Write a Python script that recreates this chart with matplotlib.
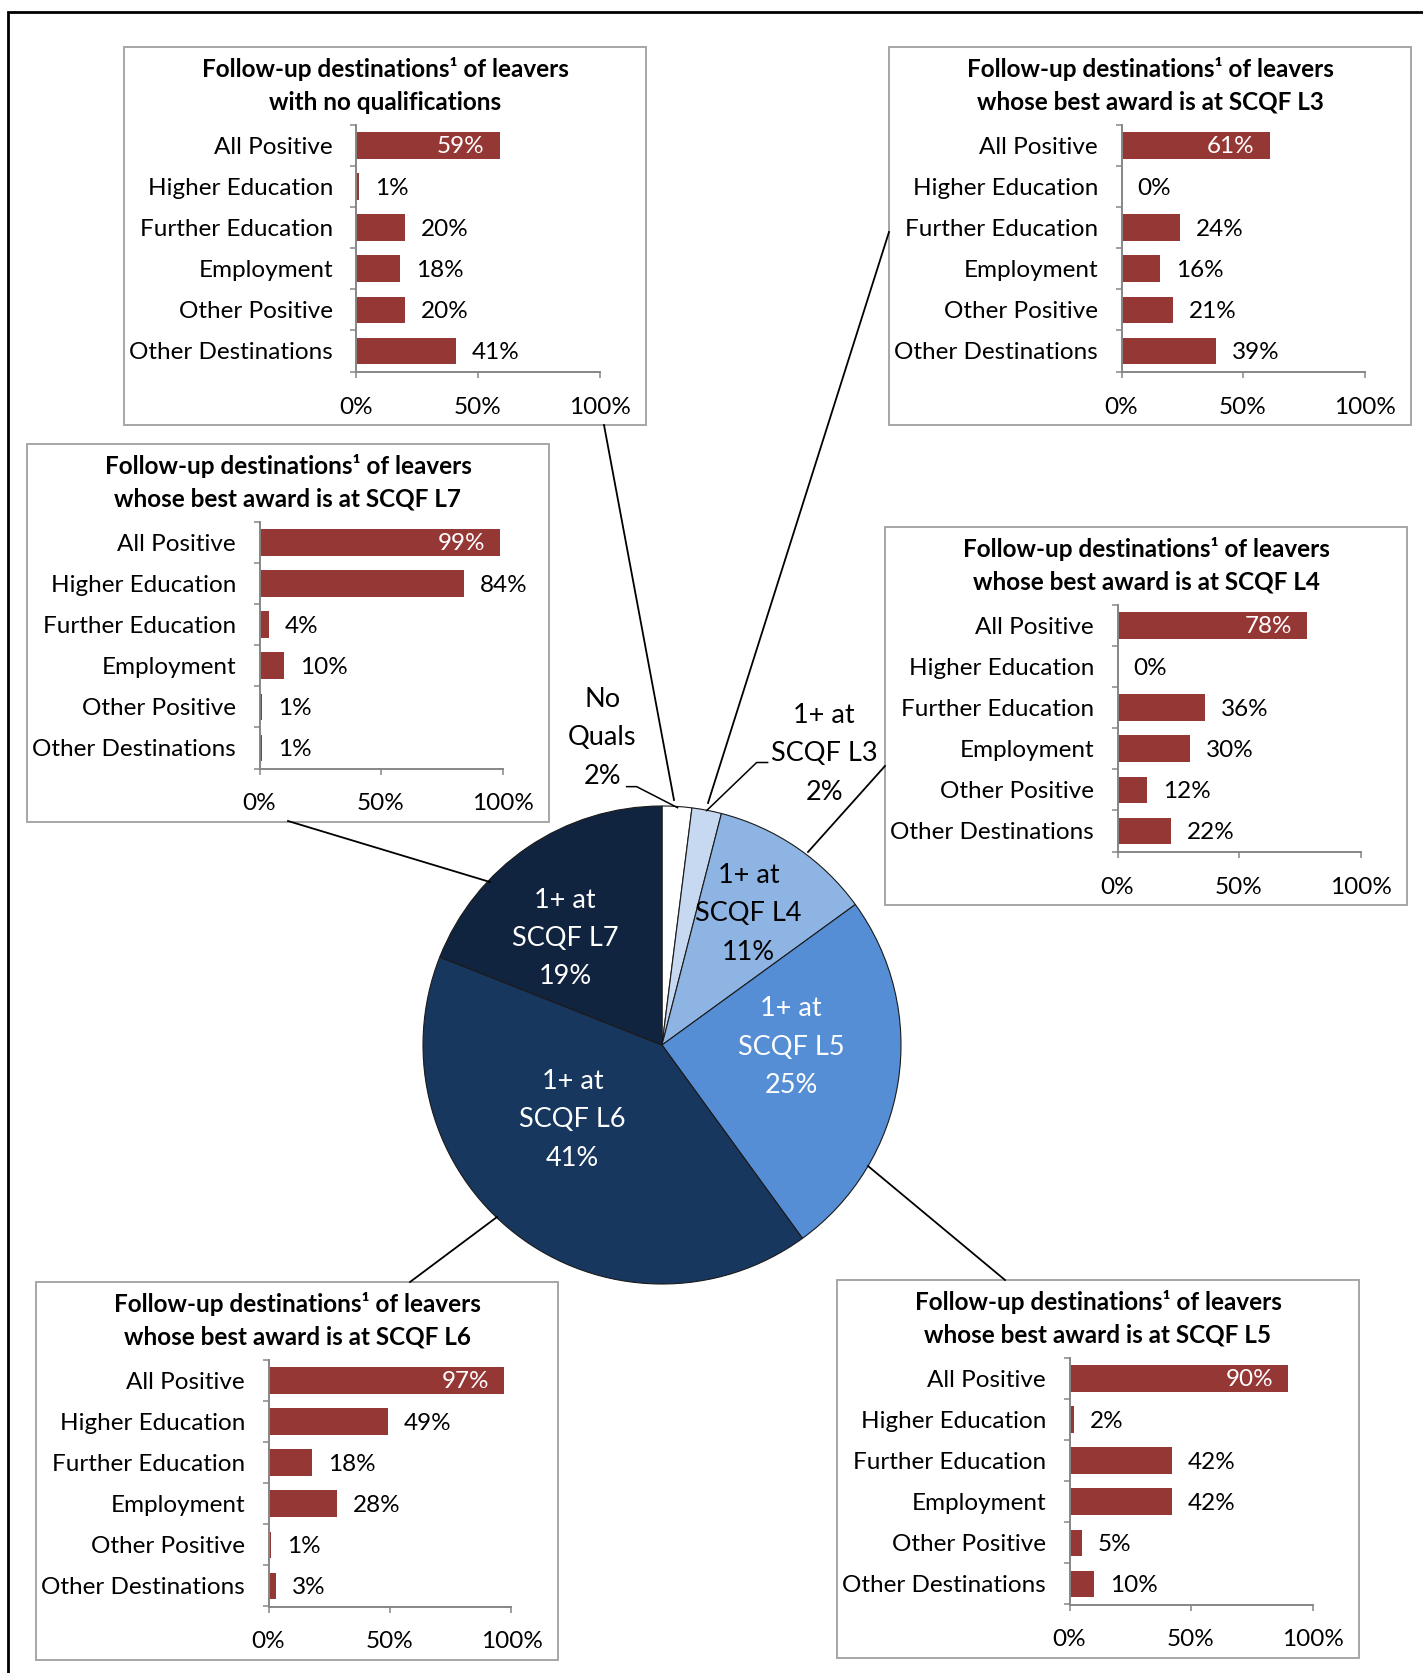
import matplotlib
matplotlib.use("Agg")
import matplotlib.pyplot as plt
from matplotlib.patches import Rectangle
from matplotlib.lines import Line2D

plt.rcParams['font.family'] = ['Lato', 'DejaVu Sans']

W, H = 1423, 1673

categories = ["All Positive", "Higher Education", "Further Education",
              "Employment", "Other Positive", "Other Destinations"]

no_quals = [59, 1, 20, 18, 20, 41]
scqf_l3 = [61, 0, 24, 16, 21, 39]
scqf_l4 = [78, 0, 36, 30, 12, 22]
scqf_l5 = [90, 2, 42, 42, 5, 10]
scqf_l6 = [97, 49, 18, 28, 1, 3]
scqf_l7 = [99, 84, 4, 10, 1, 1]

pie_names = ["No\nQuals", "1+ at\nSCQF L3", "1+ at\nSCQF L4",
             "1+ at\nSCQF L5", "1+ at\nSCQF L6", "1+ at\nSCQF L7"]
pie_shares = [2, 2, 11, 25, 41, 19]
pie_colors = ["#FFFFFF", "#C6D9F1", "#8EB4E3", "#558ED5", "#17375E", "#11243F"]
pie_text_colors = ["black", "black", "black", "white", "white", "white"]

BAR = "#953735"
AXC = "#868686"
BOX = "#A6A6A6"
FS = 17.5


def fx(x):
    return x / W


def fy(y):
    return 1 - y / H


fig = plt.figure(figsize=(W / 100, H / 100), dpi=100)

# outer frame (right and bottom edges fall outside the picture)
fig.patches.append(Rectangle((fx(8), fy(1700)), (1450 - 8) / W, (1700 - 12) / H, fill=False,
                             edgecolor="black", linewidth=2, transform=fig.transFigure))

BW, BH = 522, 378


def panel(x0, y0, subtitle, vals):
    fig.patches.append(Rectangle((fx(x0), fy(y0 + BH)), BW / W, BH / H, fill=False,
                                 edgecolor=BOX, linewidth=1.4, transform=fig.transFigure))
    cx = x0 + BW / 2
    fig.text(fx(cx), fy(y0 + 22), "Follow-up destinations\u00b9 of leavers",
             ha="center", va="center", fontsize=17.5, fontweight="bold")
    fig.text(fx(cx), fy(y0 + 55), subtitle,
             ha="center", va="center", fontsize=17.5, fontweight="bold")
    ax = fig.add_axes([fx(x0 + 232.5), fy(y0 + 78 + 246.5), 243 / W, 246.5 / H])
    ax.set_facecolor("none")
    ypos = list(range(len(categories)))
    ax.barh(ypos, vals, height=0.65, color=BAR)
    for i, v in enumerate(vals):
        if i == 0:
            ax.annotate(f"{v}%", xy=(v, i), xytext=(-11, -0.7), textcoords="offset points",
                        ha="right", va="center", color="white", fontsize=FS)
        else:
            ax.annotate(f"{v}%", xy=(v, i), xytext=(11.5, -1.2), textcoords="offset points",
                        ha="left", va="center", color="black", fontsize=FS)
    ax.set_xlim(0, 100)
    ax.set_ylim(len(categories) - 0.5, -0.5)
    ax.set_xticks([0, 50, 100])
    ax.set_xticklabels(["0%", "50%", "100%"], fontsize=FS)
    ax.set_yticks(ypos)
    ax.set_yticklabels(categories, fontsize=FS)
    ax.set_yticks([i - 0.5 for i in range(len(categories) + 1)], minor=True)
    ax.tick_params(axis="y", which="major", length=0, pad=17)
    ax.tick_params(axis="y", which="minor", length=4, color=AXC, width=1.1)
    ax.tick_params(axis="x", length=4, color=AXC, width=1.1, pad=14)
    for s in ["top", "right"]:
        ax.spines[s].set_visible(False)
    for s in ["left", "bottom"]:
        ax.spines[s].set_color(AXC)
        ax.spines[s].set_linewidth(1.4)


panel(124, 47, "with no qualifications", no_quals)
panel(889, 47, "whose best award is at SCQF L3", scqf_l3)
panel(27, 444, "whose best award is at SCQF L7", scqf_l7)
panel(885, 527, "whose best award is at SCQF L4", scqf_l4)
panel(36, 1282, "whose best award is at SCQF L6", scqf_l6)
panel(837, 1280, "whose best award is at SCQF L5", scqf_l5)

# pie
PCX, PCY, PR = 662, 1045, 239
pax = fig.add_axes([fx(PCX - PR), fy(PCY + PR), 2 * PR / W, 2 * PR / H])
pax.pie(pie_shares, colors=pie_colors, startangle=90, counterclock=False,
        wedgeprops=dict(edgecolor="#1a1a1a", linewidth=0.8))
pax.set_xlim(-1, 1)
pax.set_ylim(-1, 1)
pax.axis("off")

label_pos = [(-0.25, 1.286), (0.679, 1.219), (0.362, 0.549),
             (0.540, -0.009), (-0.375, -0.3125), (-0.406, 0.446)]
for name, share, col, (lx, ly) in zip(pie_names, pie_shares, pie_text_colors, label_pos):
    pax.text(lx, ly, f"{name}\n{share}%", ha="center", va="center", color=col,
             fontsize=19.5, linespacing=1.67, clip_on=False)

pax.add_line(Line2D([-0.148, -0.106, 0.065], [1.081, 1.081, 0.993], color="black",
                    linewidth=1.1, clip_on=False))
pax.add_line(Line2D([0.442, 0.396, 0.187], [1.182, 1.182, 0.981], color="black",
                    linewidth=1.1, clip_on=False))

# connectors from panels to slices
connectors = [((604, 425), (674, 800)),
              ((889, 232), (708, 803)),
              ((885, 766), (808, 852)),
              ((288, 821), (490, 882)),
              ((410, 1282), (497, 1217)),
              ((1005, 1280), (868, 1166))]
for (x1, y1), (x2, y2) in connectors:
    fig.lines.append(Line2D([fx(x1), fx(x2)], [fy(y1), fy(y2)], color="black",
                            linewidth=1.3, transform=fig.transFigure))

fig.savefig("out.png", dpi=100)
